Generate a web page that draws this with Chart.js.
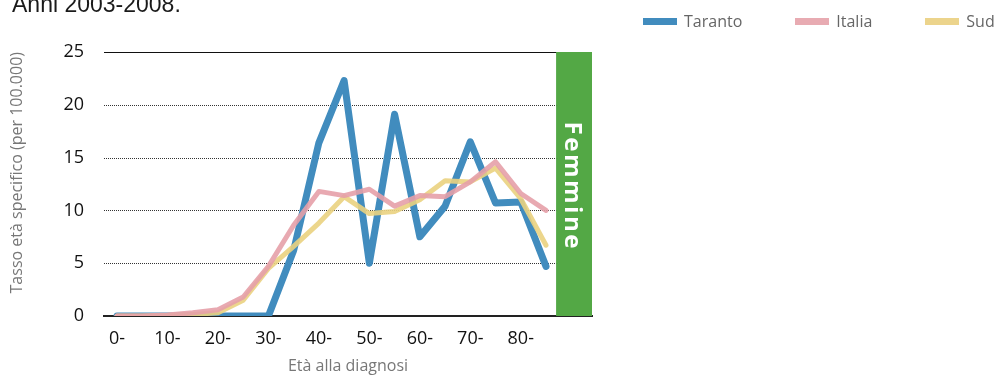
<!DOCTYPE html>
<html>
<head>
<meta charset="utf-8">
<script src="https://cdn.jsdelivr.net/npm/chart.js@4/dist/chart.umd.min.js"></script>
<style>
  html, body { margin: 0; padding: 0; background: #fff; overflow: hidden; }
  #wrap { position: relative; width: 997px; height: 376px; }
  #title { position: absolute; left: 12px; top: -7px; font: 23px "Liberation Sans", Arial, sans-serif; color: #1a1a1a; line-height: 23px; white-space: nowrap; }
  #legend { position: absolute; left: 643px; top: 11px; display: flex; gap: 53px; font: 16px "Open Sans", sans-serif; color: #666; line-height: 20px; }
  #legend .item { display: flex; align-items: center; white-space: nowrap; }
  #legend .box { width: 34px; height: 7px; margin-right: 7px; }
  canvas { position: absolute; left: 0; top: 0; }
</style>
</head>
<body>
<div id="wrap">
  <canvas id="c" width="997" height="376"></canvas>
  <div id="title">Anni 2003-2008.</div>
  <div id="legend"></div>
</div>
<script>
// ---- data ----
const ageGroups = ['0-','5-','10-','15-','20-','25-','30-','35-','40-','45-','50-','55-','60-','65-','70-','75-','80-','85-'];
const tickLabels = ['0-','10-','20-','30-','40-','50-','60-','70-','80-'];
const taranto = [0, 0, 0, 0, 0, 0, 0, 6.2, 16.4, 22.3, 5.0, 19.1, 7.5, 10.4, 16.5, 10.7, 10.8, 4.7];
const italia  = [0, 0, 0.1, 0.3, 0.6, 1.8, 4.7, 8.6, 11.8, 11.4, 12.0, 10.4, 11.4, 11.3, 12.7, 14.6, 11.6, 10.0];
const sud     = [0, 0, 0.05, 0.15, 0.3, 1.5, 4.5, 6.6, 8.8, 11.3, 9.7, 9.9, 11.0, 12.8, 12.7, 14.0, 11.1, 6.7];
const seriesNames = ['Taranto', 'Italia', 'Sud'];
const yTicks = [0, 5, 10, 15, 20, 25];
const panelLabel = 'Femmine';

const toPts = arr => arr.map((v, i) => ({ x: i, y: v }));

const bandPlugin = {
  id: 'band',
  beforeDatasetsDraw(chart) {
    const { ctx, chartArea: a, scales: { x, y } } = chart;
    ctx.save();
    // grid lines
    y.ticks.forEach(t => {
      if (t.value === 0) return;
      const py = Math.round(y.getPixelForValue(t.value)) + 0.5;
      ctx.beginPath();
      ctx.lineWidth = 1;
      ctx.strokeStyle = t.value === y.max ? '#111' : '#333';
      ctx.setLineDash(t.value === y.max ? [] : [1, 1]);
      ctx.moveTo(a.left, py);
      ctx.lineTo(a.right, py);
      ctx.stroke();
    });
    ctx.setLineDash([]);
    // green band
    const bx = x.getPixelForValue(17.4);
    ctx.fillStyle = '#53a845';
    ctx.fillRect(bx, a.top, a.right - bx, a.bottom - a.top);
    // rotated label
    const cx = (bx + a.right) / 2, cy = (a.top + a.bottom) / 2;
    ctx.translate(cx, cy);
    ctx.rotate(Math.PI / 2);
    ctx.fillStyle = '#fff';
    ctx.font = 'bold 24px "Open Sans", sans-serif';
    ctx.textBaseline = 'alphabetic';
    ctx.textAlign = 'left';
    const sp = 2.5;
    const chars = panelLabel.split('');
    const widths = chars.map(c => ctx.measureText(c).width);
    const total = widths.reduce((s, w) => s + w, 0) + sp * (chars.length - 1);
    let px = -total / 2 + 1;
    chars.forEach((c, i) => { ctx.fillText(c, px, 9); px += widths[i] + sp; });
    ctx.restore();
  }
};

const htmlLegend = {
  id: 'htmlLegend',
  afterUpdate(chart) {
    const el = document.getElementById('legend');
    el.innerHTML = '';
    chart.data.datasets.forEach(ds => {
      const it = document.createElement('div');
      it.className = 'item';
      const b = document.createElement('span');
      b.className = 'box';
      b.style.background = ds.legendColor;
      const t = document.createElement('span');
      t.textContent = ds.label;
      it.appendChild(b); it.appendChild(t);
      el.appendChild(it);
    });
  }
};

new Chart(document.getElementById('c'), {
  type: 'line',
  data: {
    datasets: [
      { label: seriesNames[0], data: toPts(taranto), borderColor: '#418cbe', legendColor: '#418cbe', borderWidth: 7, order: 3 },
      { label: seriesNames[1], data: toPts(italia), borderColor: 'rgba(229,160,168,0.9)', legendColor: '#e8abb2', borderWidth: 5, order: 1 },
      { label: seriesNames[2], data: toPts(sud), borderColor: 'rgba(234,210,128,0.9)', legendColor: '#ecd48c', borderWidth: 5, order: 2 }
    ].map(d => Object.assign({ pointRadius: 0, pointHoverRadius: 0, tension: 0, fill: false, borderJoinStyle: 'round', borderCapStyle: 'round' }, d))
  },
  options: {
    responsive: false,
    animation: false,
    events: [],
    layout: { padding: { top: 52, right: 405, left: 0, bottom: 0 } },
    plugins: { legend: { display: false }, tooltip: { enabled: false } },
    scales: {
      x: {
        type: 'linear',
        min: -0.515,
        max: 18.823,
        afterFit(s) { s.height = 60; },
        afterBuildTicks(s) {
          s.ticks = tickLabels.map(l => ({ value: ageGroups.indexOf(l) }));
        },
        ticks: {
          autoSkip: false,
          maxRotation: 0,
          padding: 12,
          color: '#111',
          font: { family: '"Open Sans", sans-serif', size: 18 },
          callback: v => ageGroups[v]
        },
        grid: { display: false, drawTicks: false },
        border: { display: true, color: '#222', width: 2 },
        title: { display: true, text: 'Età alla diagnosi', color: '#777', font: { family: '"Open Sans", sans-serif', size: 16 }, padding: { top: 0, bottom: 0 } }
      },
      y: {
        min: 0,
        max: 25,
        afterFit(s) { s.width = 104; },
        afterBuildTicks(s) { s.ticks = yTicks.map(v => ({ value: v })); },
        ticks: {
          padding: 20,
          color: '#111',
          font: { family: '"Open Sans", sans-serif', size: 18 }
        },
        grid: { display: false, drawTicks: false },
        border: { display: false },
        title: { display: true, align: 'end', text: 'Tasso età specifico (per 100.000)', color: '#777', font: { family: '"Open Sans", sans-serif', size: 16 }, padding: { top: 8, bottom: 0 } }
      }
    }
  },
  plugins: [bandPlugin, htmlLegend]
});
</script>
</body>
</html>
